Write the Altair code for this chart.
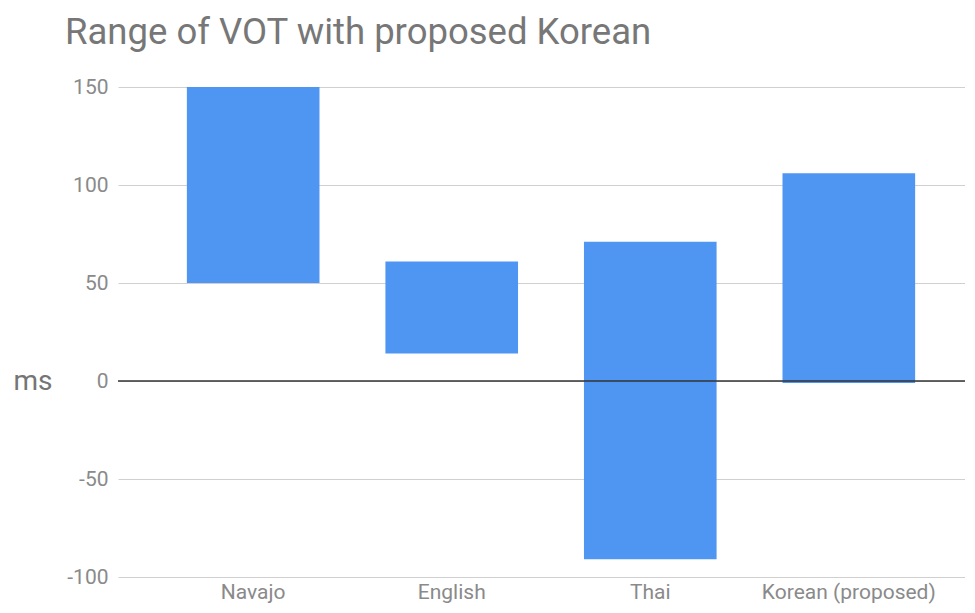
import altair as alt
import pandas as pd

languages = ["Navajo", "English", "Thai", "Korean (proposed)"]
vot_low = [50, 14, -91, -1]
vot_high = [150, 61, 71, 106]
y_ticks = [-100, -50, 0, 50, 100, 150]

df = pd.DataFrame({"lang": languages, "low": vot_low, "high": vot_high})
zero_df = pd.DataFrame({"z": [0]})

FONT = "Roboto"

x_scale = alt.Scale(domain=languages, paddingInner=0.332, paddingOuter=0.299, align=0.58)
y_scale = alt.Scale(domain=[-100, 150], nice=False, zero=False)

bars = alt.Chart(df).mark_bar(color="#4f96f3").encode(
    x=alt.X("lang:N", scale=x_scale, sort=languages,
            axis=alt.Axis(title=None, labelAngle=0, labelFont=FONT, labelFontSize=21,
                          labelColor="#8a8a8a", domain=False, ticks=False,
                          labelPadding=4, grid=False)),
    y=alt.Y("low:Q", scale=y_scale,
            axis=alt.Axis(values=y_ticks, title="ms", titleAngle=0, titleFont=FONT,
                          titleFontSize=28, titleFontWeight="normal", titleColor="#757575",
                          titleAlign="right", titleBaseline="alphabetic",
                          titleX=-66, titleY=302,
                          labelExpr="toString(datum.value)",
                          labelFont=FONT, labelFontSize=21, labelColor="#8a8a8a",
                          labelPadding=10, domain=False, ticks=False,
                          grid=True, gridColor="#d0d0d0", gridWidth=1)),
    y2="high:Q",
)

zero = alt.Chart(zero_df).mark_rule(color="#333333", strokeWidth=1.5).encode(
    y=alt.Y("z:Q", scale=y_scale)
)

chart = alt.layer(bars, zero).properties(
    width=847,
    height=490,
    padding={"left": 110, "top": 79, "right": 0, "bottom": 28},
    autosize=alt.AutoSizeParams(type="none"),
    title=alt.TitleParams(
        "Range of VOT with proposed Korean",
        anchor="start", frame="group", font=FONT, fontSize=36.5, fontWeight="normal",
        color="#777777", baseline="alphabetic", dx=-53, dy=34, offset=30,
    ),
).configure_view(stroke=None)

chart.save("out.html", embed_options={"renderer": "svg", "actions": False})
